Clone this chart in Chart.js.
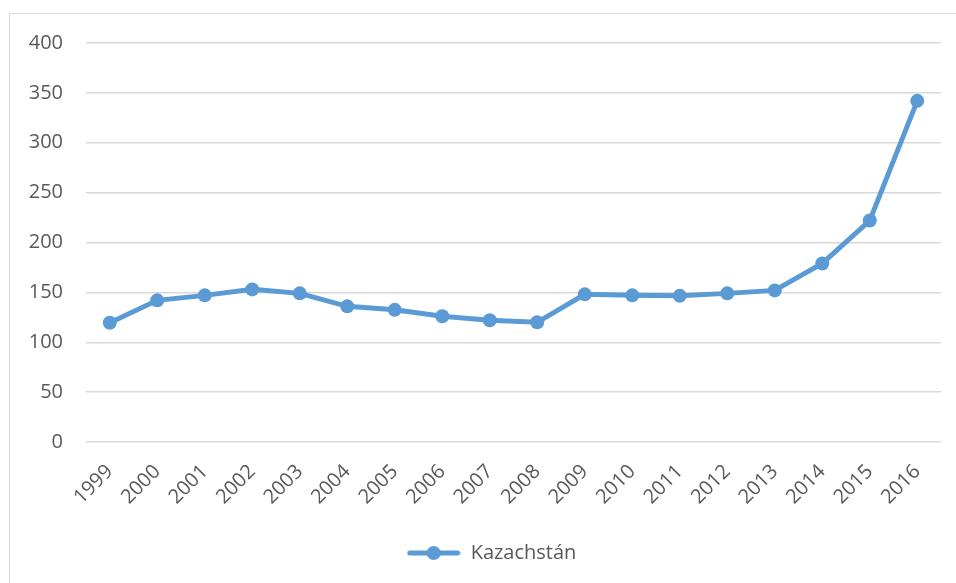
<!DOCTYPE html>
<html>
  <head>
    <meta charset="UTF-8">
    <title>Kazachstán</title>
    <script src="https://cdn.jsdelivr.net/npm/chart.js@4"></script>
    <style>
      body { margin: 0; background: #fff; overflow: hidden; }
      #frame { position: absolute; left: 9px; top: 13px; width: 1000px; height: 1000px; border: 1px solid #d9d9d9; }
      #chart { position: absolute; left: 0; top: 0; }
    </style>
  </head>
  <body>
    <div id='frame'></div>
    <canvas id='chart' width='956' height='583'></canvas>

    <script>
      const years = ['1999', '2000', '2001', '2002', '2003', '2004', '2005', '2006', '2007',
                     '2008', '2009', '2010', '2011', '2012', '2013', '2014', '2015', '2016'];
      const kazachstan = [119.5, 142, 147, 153, 149, 136, 132.5, 126, 122,
                          120, 148, 147, 146.5, 149, 152, 179, 222, 342];
      const yTicks = [0, 50, 100, 150, 200, 250, 300, 350, 400];

      const blue = '#5b9bd5';
      const font = "'Open Sans', sans-serif";

      // legend icon: line with a dot, like the office legend
      const icon = document.createElement('canvas');
      icon.width = 54;
      icon.height = 16;
      const ic = icon.getContext('2d');
      ic.strokeStyle = blue;
      ic.lineWidth = 5;
      ic.lineCap = 'round';
      ic.beginPath();
      ic.moveTo(3, 8);
      ic.lineTo(51, 8);
      ic.stroke();
      ic.fillStyle = blue;
      ic.beginPath();
      ic.arc(27, 8, 7, 0, Math.PI * 2);
      ic.fill();

      // nudge the legend to the right, it sits under the plot area centre
      const legendShift = {
        id: 'legendShift',
        afterLayout(chart) {
          chart.legend.left += 21;
          chart.legend.right += 21;
        }
      };

      const ctx = document.getElementById('chart').getContext('2d');

      new Chart(ctx, {
        type: 'line',
        data: {
          labels: years,
          datasets: [{
            label: 'Kazachstán',
            data: kazachstan,
            borderColor: blue,
            backgroundColor: blue,
            borderWidth: 5,
            pointRadius: 7,
            pointHoverRadius: 7,
            pointBorderWidth: 0,
            tension: 0
          }]
        },
        plugins: [legendShift],
        options: {
          responsive: false,
          animation: false,
          layout: { padding: { left: 0, right: 15, top: 43, bottom: 10 } },
          plugins: {
            tooltip: { enabled: false },
            legend: {
              position: 'bottom',
              labels: {
                color: '#595959',
                font: { family: font, size: 20 },
                usePointStyle: true,
                pointStyleWidth: 54,
                padding: 10,
                generateLabels: (chart) => [{
                  text: 'Kazachstán',
                  pointStyle: icon,
                  fontColor: '#595959',
                  datasetIndex: 0
                }]
              }
            }
          },
          scales: {
            x: {
              offset: true,
              grid: { display: false, drawTicks: false },
              border: { display: false },
              afterFit: (scale) => { scale.height = 91; },
              ticks: {
                color: '#595959',
                font: { family: font, size: 20 },
                minRotation: 45,
                maxRotation: 45,
                padding: 18,
                autoSkip: false
              }
            },
            y: {
              min: 0,
              max: 400,
              afterBuildTicks: (scale) => { scale.ticks = yTicks.map(v => ({ value: v })); },
              afterFit: (scale) => { scale.width = 86; },
              grid: { color: '#d9d9d9', lineWidth: 1.5, drawTicks: false },
              border: { display: false },
              ticks: {
                color: '#595959',
                font: { family: font, size: 20 },
                padding: 23
              }
            }
          }
        }
      });
    </script>
  </body>
</html>
